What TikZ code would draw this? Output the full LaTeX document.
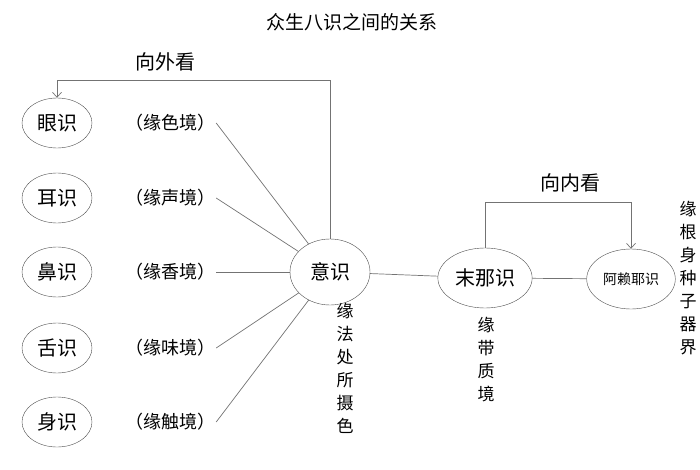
\documentclass[tikz,border=0pt]{standalone}
\usepackage{fontspec}
\setmainfont{Noto Sans CJK SC}
\usetikzlibrary{shapes.geometric,arrows.meta}
\begin{document}
\begin{tikzpicture}[x=1pt,y=-1pt,
  lab/.style={font=\fontsize{18}{20}\selectfont,inner sep=1pt},
  vt/.style={font=\fontsize{17}{23}\selectfont,align=center,inner sep=0pt},
  ln/.style={draw=black!55,line width=0.7pt},
  arr/.style={-{Straight Barb[length=5pt,width=9pt]}}]
\useasboundingbox (0,0) rectangle (700,470);
\node[font=\fontsize{19}{20}\selectfont] (title) at (352,22) {众生八识之间的关系};
\foreach \n/\t/\l/\y in {a/眼识/缘色境/123, b/耳识/缘声境/198, c/鼻识/缘香境/272, d/舌识/缘味境/348, e/身识/缘触境/422}{
  \node[draw=black!70,ellipse,minimum width=70,minimum height=50,font=\fontsize{20}{22}\selectfont] (\n) at (57,\y) {\t};
  \node[lab] (l\n) at (170,\y) {（\l）};
}
\node[draw=black!70,ellipse,minimum width=80,minimum height=66,font=\fontsize{20}{22}\selectfont] (yi) at (330,272) {意识};
\node[draw=black!70,ellipse,minimum width=76,minimum height=60,font=\fontsize{20}{22}\selectfont] (mo) at (485,278) {末那识};
\node[draw=black!70,ellipse,minimum width=82,minimum height=60,font=\fontsize{14}{16}\selectfont] (al) at (631,279) {阿赖耶识};
\foreach \n in {a,b,c,d,e} \draw[ln] (l\n.east) -- (yi);
\draw[ln] (yi) -- (mo);
\draw[ln] (mo) -- (al);
\node[font=\fontsize{20}{22}\selectfont] (wai) at (165,62) {向外看};
\node[font=\fontsize{20}{22}\selectfont] (nei) at (570,183) {向内看};
\draw[ln,arr] (yi.north) -- (yi.north |- 0,80) -- (a.north |- 0,80) -- (a.north);
\draw[ln,arr] (mo.north) -- (mo.north |- 0,202) -- (al.north |- 0,202) -- (al.north);
\node[vt] (v1) at (345,368) {缘\\法\\处\\所\\摄\\色};
\node[vt] (v2) at (486,360) {缘\\带\\质\\境};
\node[vt] (v3) at (688,278) {缘\\根\\身\\种\\子\\器\\界};
\end{tikzpicture}
\end{document}
